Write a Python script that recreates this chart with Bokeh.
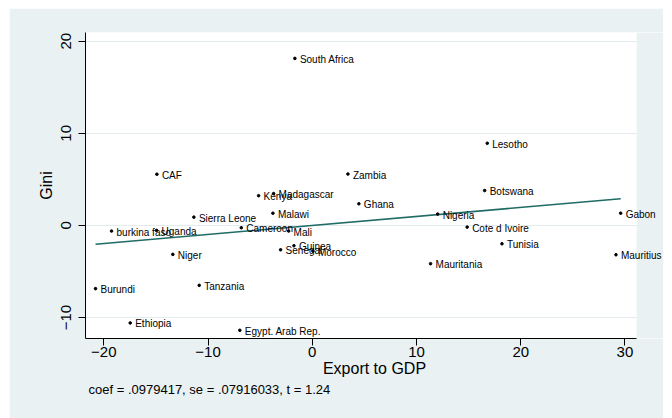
from bokeh.plotting import figure
from bokeh.models import ColumnDataSource, FixedTicker, Title, LabelSet, BoxAnnotation
from bokeh.core.properties import value
from bokeh.embed import file_html
from bokeh.resources import INLINE

# Added-variable plot: Gini residuals against export-to-GDP residuals
countries = [
    "South Africa", "CAF", "Zambia", "Kenya", "Madagascar", "Sierra Leone",
    "Malawi", "burkina faso", "Uganda", "Cameroon", "Mali", "Guinea",
    "Senegal", "Morocco", "Niger", "Burundi", "Tanzania", "Ethiopia",
    "Egypt. Arab Rep.", "Ghana", "Lesotho", "Botswana", "Nigeria", "Gabon",
    "Cote d Ivoire", "Tunisia", "Mauritius", "Mauritania",
]
export_resid = [
    -1.67, -14.91, 3.42, -5.15, -3.71, -11.36,
    -3.78, -19.26, -14.94, -6.81, -2.27, -1.76,
    -3.04, 0.06, -13.38, -20.80, -10.85, -17.47,
    -6.95, 4.47, 16.79, 16.54, 12.03, 29.59,
    14.86, 18.20, 29.14, 11.35,
]
gini_resid = [
    18.13, 5.56, 5.58, 3.23, 3.46, 0.90,
    1.33, -0.61, -0.54, -0.25, -0.61, -2.20,
    -2.64, -2.78, -3.14, -6.86, -6.50, -10.58,
    -11.38, 2.35, 8.92, 3.79, 1.23, 1.33,
    -0.18, -1.99, -3.18, -4.15,
]
coef = 0.0979417
se = 0.07916033
t_stat = 1.24

x_ticks = [-20, -10, 0, 10, 20, 30]
y_ticks = [-10, 0, 10, 20]

FONT = "Liberation Sans"
BG = "#EAF1F3"
GRID = "#E2ECEF"

# white plot region spans X_LO..X_HI; the canvas continues a little further
# right so that long country names can spill into the margin
X_LO, X_HI, X_CANVAS = -21.76, 31.12, 33.7

src = ColumnDataSource(data=dict(x=export_resid, y=gini_resid, name=countries))

p = figure(
    width=654, height=410,
    x_range=(X_LO, X_CANVAS), y_range=(-12.27, 20.94),
    output_backend="svg", toolbar_location=None,
    background_fill_color="white", border_fill_color=BG,
    min_border_left=76, min_border_right=0,
    min_border_top=24, min_border_bottom=80,
    margin=(8, 9, 0, 9),
)
p.outline_line_color = None

# margin strip to the right of the plot region
p.add_layout(BoxAnnotation(left=X_HI, fill_color=BG, fill_alpha=1.0,
                           line_color=None, level="underlay"))

# fitted line through the residual cloud
x0, x1 = min(export_resid), max(export_resid)
p.line(x=[x0, x1], y=[coef * x0, coef * x1], line_color="#1f6b66", line_width=1.6)

p.scatter("x", "y", source=src, size=2.6, marker="circle",
          fill_color="black", line_color="black")

labels = LabelSet(x="x", y="y", text="name", source=src, x_offset=5, y_offset=-1,
                  text_font=value(FONT), text_font_size=value("10px"),
                  text_color="black", text_baseline="middle", text_align="left")
p.add_layout(labels)

# axes
p.xaxis.ticker = FixedTicker(ticks=x_ticks)
p.yaxis.ticker = FixedTicker(ticks=y_ticks)
p.xaxis.bounds = (X_LO, X_HI)
for ax in (p.xaxis[0], p.yaxis[0]):
    ax.axis_line_color = "black"
    ax.major_tick_line_color = "black"
    ax.major_tick_out = 7
    ax.major_tick_in = 0
    ax.minor_tick_line_color = None
    ax.major_label_text_font = FONT
    ax.major_label_text_font_size = "15px"
    ax.major_label_text_color = "black"
    ax.axis_label_text_font = FONT
    ax.axis_label_text_font_size = "16px"
    ax.axis_label_text_font_style = "normal"
    ax.axis_label_text_color = "black"

p.xaxis.axis_label = "Export to GDP"
p.xaxis.major_label_standoff = 1
p.xaxis.axis_label_standoff = 0
p.yaxis.axis_label = "Gini"
p.yaxis.major_label_orientation = "vertical"
p.yaxis.major_label_standoff = 7
p.yaxis.axis_label_standoff = 4

p.xgrid.grid_line_color = None
p.ygrid.grid_line_color = GRID
p.ygrid.grid_line_width = 1

note = Title(text=f"coef = .{str(coef).split('.')[1]}, se = .{str(se).split('.')[1]}, t = {t_stat}",
             align="left", offset=3, text_font=FONT, text_font_size="13px",
             text_font_style="normal", text_color="black", standoff=0)
p.add_layout(note, "below")

open("out.html", "w").write(file_html(p, INLINE))
